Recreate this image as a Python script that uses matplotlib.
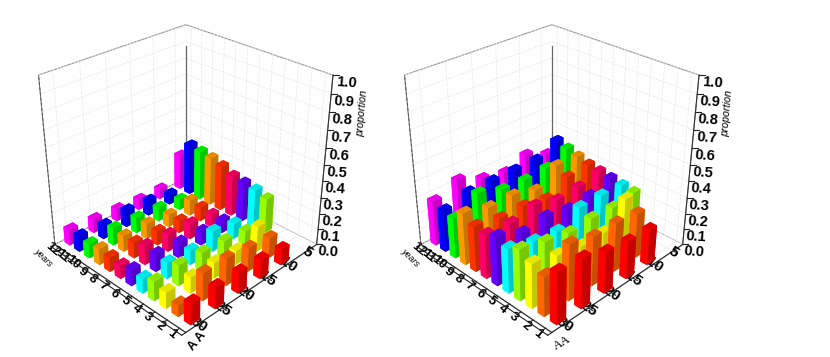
import numpy as np
import matplotlib
matplotlib.use('Agg')
import matplotlib.pyplot as plt
from matplotlib.colors import to_rgb

plt.rcParams['font.family'] = ['Liberation Sans', 'DejaVu Sans']

ages = [30, 25, 20, 15, 10, 5]
years = [12, 11, 10, 9, 8, 7, 6, 5, 4, 3, 2, 1]
colors = ['#ff00ff', '#0000ff', '#00ff00', '#ff9900', '#ff3300', '#ff0066',
          '#6600ff', '#00ffff', '#99ff00', '#ffff00', '#ff6600', '#ff0000']

# rows are ages (30 down to 5), columns are years 12..1
left_vals = [
    [.10, .10, .09, .10, .09, .08, .10, .09, .12, .10, .07, .13],
    [.09, .09, .11, .10, .10, .12, .11, .10, .13, .10, .17, .13],
    [.08, .11, .10, .10, .09, .11, .10, .09, .12, .10, .17, .13],
    [.07, .10, .09, .08, .08, .10, .09, .13, .11, .09, .15, .12],
    [.07, .07, .07, .10, .09, .08, .08, .10, .09, .16, .13, .10],
    [.23, .33, .32, .31, .29, .26, .25, .24, .22, 0, 0, 0],
]
right_vals = [
    [.28, .26, .25, .32, .28, .27, .30, .27, .31, .27, .24, .31],
    [.34, .30, .33, .28, .25, .26, .24, .23, .27, .23, .34, .30],
    [.28, .30, .28, .28, .25, .29, .26, .21, .24, .20, .30, .25],
    [.25, .30, .27, .24, .22, .25, .23, .28, .25, .20, .30, .23],
    [.30, .30, .28, .33, .29, .26, .24, .28, .24, .33, .28, .22],
    [.24, .36, .34, .32, .30, .29, .28, .27, .26, 0, 0, 0],
]
z_ticks = [0.0, 0.1, 0.2, 0.3, 0.4, 0.5, 0.6, 0.7, 0.8, 0.9, 1.0]


def shade(c, f):
    return tuple(v * f for v in to_rgb(c))


def draw_panel(rect, vals):
    ax = fig.add_axes(rect, projection='3d', proj_type='persp', focal_length=0.42)
    ax.computed_zorder = False
    ax.view_init(elev=29.5, azim=45)
    ax.set_box_aspect((1, 1, 0.99), zoom=0.92)

    # ticks and the rail along the years axis
    tk = dict(color='#222222', lw=0.8, zorder=5)
    for z in z_ticks:
        ax.plot([2.5, 1.9], [12.5, 12.74], [z, z], **tk)
    for a in ages:
        ax.plot([a, a], [12.5, 12.85], [0, 0], **tk)
    for y in range(1, 13):
        ax.plot([32.5, 33.3], [y, y], [0, 0], **tk)
    ax.plot([33.3, 33.3], [0.5, 12.5], [0, 0], **tk)
    ax.plot([32.5, 33.3], [0.5, 0.5], [0, 0], **tk)
    ax.plot([32.5, 33.3], [12.5, 12.5], [0, 0], **tk)
    # darker wall edges
    ax.plot([2.5, 2.5], [0.5, 0.5], [0, 0.87], color='#666666', lw=0.9, zorder=4)
    ax.plot([32.5, 32.5], [0.5, 0.5], [0, 1], color='#555555', lw=0.7, ls='--', zorder=4)

    # back to front: small age first, far years first
    n = 0
    for r in range(len(ages) - 1, -1, -1):
        for c in range(len(years)):
            v = vals[r][c]
            if v <= 0:
                continue
            col = colors[c]
            faces = [col, shade(col, 0.9), col, shade(col, 0.78), col, col]
            ax.bar3d(ages[r] - 0.95, c + 1 - 0.27, 0, 1.9, 0.54, v, color=faces,
                     shade=False, zorder=10 + n, linewidth=0)
            n += 1

    ax.set_xlim(2.5, 32.5)
    ax.set_ylim(0.5, 12.5)
    ax.set_zlim(0, 1)
    ax.set_xticks(ages)
    ax.set_xticklabels([str(a) for a in ages], fontweight='bold', fontsize=11, rotation=-35, va='center')
    ax.set_yticks(range(1, 13))
    ax.set_yticklabels([str(y) for y in years], fontweight='bold', fontsize=9.5, rotation=-40,
                       va='bottom', ha='center')
    ax.set_zticks(z_ticks)
    ax.set_zticklabels(['%.1f' % z for z in z_ticks], fontweight='bold', fontsize=10.5,
                       rotation=-4, va='top')
    ax.tick_params(axis='x', pad=-7.5)
    ax.tick_params(axis='y', pad=-1.5)
    ax.tick_params(axis='z', pad=-2)

    for axis in (ax.xaxis, ax.yaxis, ax.zaxis):
        axis.set_pane_color((1, 1, 1, 1))
        axis.pane.set_edgecolor('#777777')
        axis.pane.set_linewidth(0.7)
        axis.line.set_color('#333333')
        axis.line.set_linewidth(0.8)
        axis._axinfo['grid'].update(color='#e6e6e6', linewidth=0.5, linestyle='--')
        axis._axinfo['tick'].update(inward_factor=0.0, outward_factor=0.0)
    ax.zaxis.set_ticks_position('upper')
    ax.patch.set_alpha(0)
    return ax


fig = plt.figure(figsize=(8.3, 3.57), dpi=100)
draw_panel([-0.002, 0.025, 0.44, 1.0], left_vals)
draw_panel([0.439, 0.025, 0.44, 1.0], right_vals)

fig.text(362 / 830, 1 - 113 / 357, 'proportion', rotation=85, fontsize=7.5, style='italic',
         ha='center', va='center')
fig.text(727 / 830, 1 - 113 / 357, 'proportion', rotation=85, fontsize=7.5, style='italic',
         ha='center', va='center')
fig.text(43 / 830, 1 - 258 / 357, 'years', rotation=-45, fontsize=6.5, style='italic',
         ha='center', va='center')
fig.text(410 / 830, 1 - 258 / 357, 'years', rotation=-45, fontsize=6.5, style='italic',
         ha='center', va='center')
fig.text(197 / 830, 1 - 341 / 357, 'A A', rotation=50, fontsize=9, fontweight='bold',
         ha='center', va='center')
fig.text(562 / 830, 1 - 343 / 357, 'AA', rotation=30, fontsize=9, family='Liberation Serif',
         ha='center', va='center')
fig.savefig('out.png', dpi=100)
